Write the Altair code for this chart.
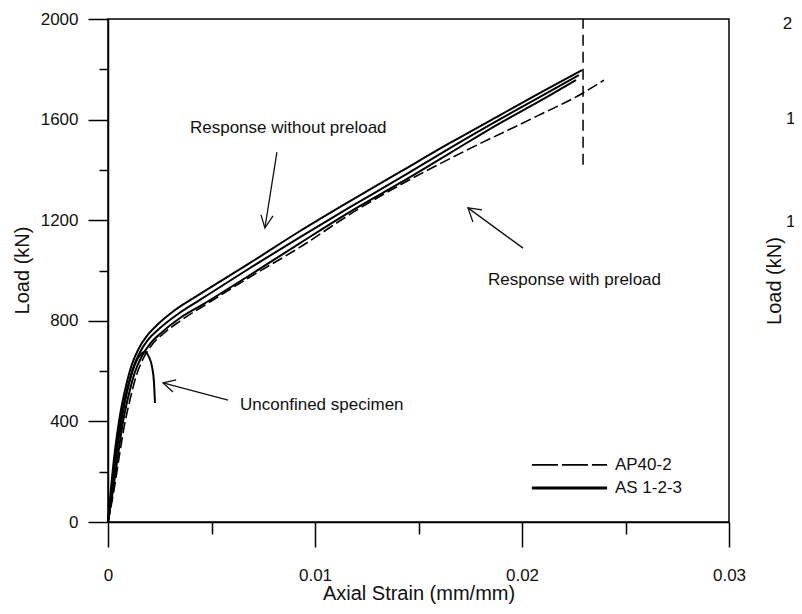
import altair as alt
import pandas as pd

FONT = "Liberation Sans"

# ---- curves: axial strain (mm/mm) vs load (kN) ----
as1_x = [0, 0.000145, 0.000338, 0.00058, 0.00087, 0.00116, 0.0015, 0.00188, 0.00242, 0.00324, 0.0043, 0.00686, 0.00928, 0.01169, 0.01411, 0.01652, 0.01894, 0.02087, 0.0229]
as1_y = [0, 135, 286, 425, 541, 628, 692, 740, 787, 843, 899, 1030, 1157, 1276, 1392, 1507, 1618, 1706, 1797]

as2_x = [0, 0.000193, 0.000386, 0.000628, 0.000918, 0.00121, 0.00155, 0.00193, 0.00251, 0.00338, 0.00444, 0.00686, 0.00928, 0.01169, 0.01411, 0.01652, 0.01894, 0.02087, 0.02275]
as2_y = [0, 135, 278, 414, 525, 612, 676, 724, 771, 827, 883, 1010, 1133, 1252, 1368, 1487, 1602, 1690, 1777]

as3_x = [0, 0.000242, 0.000483, 0.000725, 0.00101, 0.0013, 0.00164, 0.00203, 0.00261, 0.00348, 0.00454, 0.00686, 0.00928, 0.01169, 0.01411, 0.01652, 0.01894, 0.02087, 0.02261]
as3_y = [0, 127, 266, 398, 509, 596, 660, 708, 755, 811, 863, 982, 1109, 1233, 1348, 1467, 1586, 1674, 1757]

ap_x = [0, 0.00029, 0.00053, 0.00077, 0.00106, 0.00135, 0.00169, 0.00208, 0.00266, 0.00348, 0.00469, 0.00686, 0.00928, 0.01203, 0.01411, 0.01734, 0.02053, 0.02295, 0.02396]
ap_y = [0, 127, 254, 374, 485, 577, 648, 700, 748, 799, 863, 974, 1093, 1241, 1340, 1479, 1606, 1706, 1757]

unc_x = [0, 0.000193, 0.000435, 0.000725, 0.00106, 0.00135, 0.00159, 0.00179, 0.00198, 0.00213, 0.00222, 0.00227]
unc_y = [0, 139, 286, 437, 565, 636, 668, 676, 656, 616, 557, 473]

# vertical dashed marker
vline_x = [0.02295]
vline_y = [1420]
vline_y2 = [2000]

# annotations
ann_text = ["Response without preload", "Response with preload", "Unconfined specimen"]
ann_x = [0.00396, 0.01836, 0.00638]
ann_y = [1567, 962, 465]

# arrows (polyline segments): id, x, y
arrow_seg = ["a1s", "a1s", "a1h", "a1h", "a1h",
             "a2s", "a2s", "a2h", "a2h", "a2h",
             "a3s", "a3s", "a3h", "a3h", "a3h"]
arrow_x = [0.00816, 0.00758, 0.00739, 0.00758, 0.00797,
           0.02005, 0.01739, 0.01807, 0.01739, 0.01763,
           0.0058, 0.00266, 0.00329, 0.00266, 0.00314]
arrow_y = [1471, 1169, 1221, 1169, 1217,
           1089, 1249, 1241, 1249, 1193,
           485, 553, 565, 553, 517]

# legend
leg_labels = ["AP40-2", "AS 1-2-3"]
leg_x1 = [0.02048, 0.02048]
leg_x2 = [0.02411, 0.02411]
leg_y = [227, 135]
leg_tx = [0.02449, 0.02449]

# neighbouring panel fragments (cut off at the right edge in the original)
frag_text = ["2", "1", "1"]
frag_x = [0.03260, 0.03275, 0.03275]
frag_y = [1980, 1602, 1193]
frag_title = ["Load (kN)"]
frag_title_x = [0.03222]
frag_title_y = [958]

x_ticks = [0, 0.005, 0.01, 0.015, 0.02, 0.025, 0.03]
y_ticks = [0, 200, 400, 600, 800, 1000, 1200, 1400, 1600, 1800, 2000]

rows = []
for name, xs_, ys_ in [("AS-1", as1_x, as1_y), ("AS-2", as2_x, as2_y),
                       ("AS-3", as3_x, as3_y), ("Unconfined", unc_x, unc_y)]:
    for i, (a, b) in enumerate(zip(xs_, ys_)):
        rows.append({"series": name, "strain": a, "load": b, "i": i})
solid_df = pd.DataFrame(rows)
ap_df = pd.DataFrame({"strain": ap_x, "load": ap_y, "i": list(range(len(ap_x)))})
vline_df = pd.DataFrame({"strain": vline_x, "load": vline_y, "load2": vline_y2})
ann_df = pd.DataFrame({"text": ann_text, "strain": ann_x, "load": ann_y})
arrow_df = pd.DataFrame({"seg": arrow_seg, "strain": arrow_x, "load": arrow_y,
                         "i": list(range(len(arrow_x)))})
leg_df = pd.DataFrame({"label": leg_labels, "strain": leg_x1, "strain2": leg_x2,
                       "load": leg_y, "tx": leg_tx})
frag_df = pd.DataFrame({"text": frag_text, "strain": frag_x, "load": frag_y})
frag_title_df = pd.DataFrame({"text": frag_title, "strain": frag_title_x, "load": frag_title_y})

xs = alt.Scale(domain=[0, 0.03], nice=False, zero=False)
ys = alt.Scale(domain=[0, 2000], nice=False)

x_axis = alt.Axis(
    values=x_ticks,
    tickSize={"condition": {"test": "round(datum.value*200) % 2 == 0", "value": 25}, "value": 12},
    labelExpr="round(datum.value*200) % 2 == 0 ? (datum.value == 0 ? '0' : format(datum.value, '.2f')) : ''",
    title="Axial Strain (mm/mm)",
    labelPadding=20,
    labelFlush=False,
    titleBaseline="alphabetic",
    titleY=77,
    grid=False,
)
y_axis = alt.Axis(
    values=y_ticks,
    tickSize={"condition": {"test": "datum.value % 400 == 0", "value": 20}, "value": 9},
    labelExpr="datum.value % 400 == 0 ? format(datum.value, 'd') : ''",
    title="Load (kN)",
    labelPadding=10,
    labelFlush=False,
    titleX=-86,
    titleY=251,
    titleBaseline="middle",
    titleAlign="center",
    grid=False,
)


def X(field):
    return alt.X(field, type="quantitative", scale=xs, axis=x_axis)


def Y(field):
    return alt.Y(field, type="quantitative", scale=ys, axis=y_axis)


solid = alt.Chart(solid_df).mark_line(color="black", strokeWidth=2, interpolate="monotone").encode(
    x=X("strain"), y=Y("load"), detail="series:N", order="i:Q",
)
dashed = alt.Chart(ap_df).mark_line(color="black", strokeWidth=1.6, strokeDash=[11, 4], interpolate="monotone").encode(
    x=X("strain"), y=Y("load"), order="i:Q",
)
vline = alt.Chart(vline_df).mark_rule(color="black", strokeWidth=1.5, strokeDash=[11, 6]).encode(
    x=X("strain"), y=Y("load"), y2="load2:Q",
)
arrows = alt.Chart(arrow_df).mark_line(color="#111", strokeWidth=1.3).encode(
    x=X("strain"), y=Y("load"), detail="seg:N", order="i:Q",
)
ann = alt.Chart(ann_df).mark_text(align="left", baseline="middle", font=FONT, fontSize=17, color="#111").encode(
    x=X("strain"), y=Y("load"), text="text:N",
)
leg_dash = alt.Chart(leg_df[leg_df.label == "AP40-2"]).mark_rule(color="black", strokeWidth=1.6, strokeDash=[26, 4]).encode(
    x=X("strain"), x2="strain2:Q", y=Y("load"),
)
leg_solid = alt.Chart(leg_df[leg_df.label == "AS 1-2-3"]).mark_rule(color="black", strokeWidth=3).encode(
    x=X("strain"), x2="strain2:Q", y=Y("load"),
)
leg_text = alt.Chart(leg_df).mark_text(align="left", baseline="middle", font=FONT, fontSize=17, color="#111").encode(
    x=X("tx"), y=Y("load"), text="label:N",
)
frag = alt.Chart(frag_df).mark_text(align="left", baseline="middle", font=FONT, fontSize=17, color="#111").encode(
    x=X("strain"), y=Y("load"), text="text:N",
)
frag_t = alt.Chart(frag_title_df).mark_text(align="center", baseline="middle", angle=270, font=FONT, fontSize=20, color="#111").encode(
    x=X("strain"), y=Y("load"), text="text:N",
)

chart = alt.layer(solid, dashed, vline, arrows, ann, leg_dash, leg_solid, leg_text, frag, frag_t).properties(
    width=621,
    height=503,
    padding={"left": 100, "top": 11, "right": 65, "bottom": 84},
    autosize=alt.AutoSizeParams(type="none"),
).configure_view(
    stroke="black", strokeWidth=1.5,
).configure_axis(
    domainColor="black", domainWidth=1.5, tickColor="black", tickWidth=1.5,
    labelFont=FONT, labelFontSize=17, labelColor="#111",
    titleFont=FONT, titleFontSize=20, titleFontWeight="normal", titleColor="#111",
)

chart.save("out.html", embed_options={"renderer": "svg", "actions": False})
